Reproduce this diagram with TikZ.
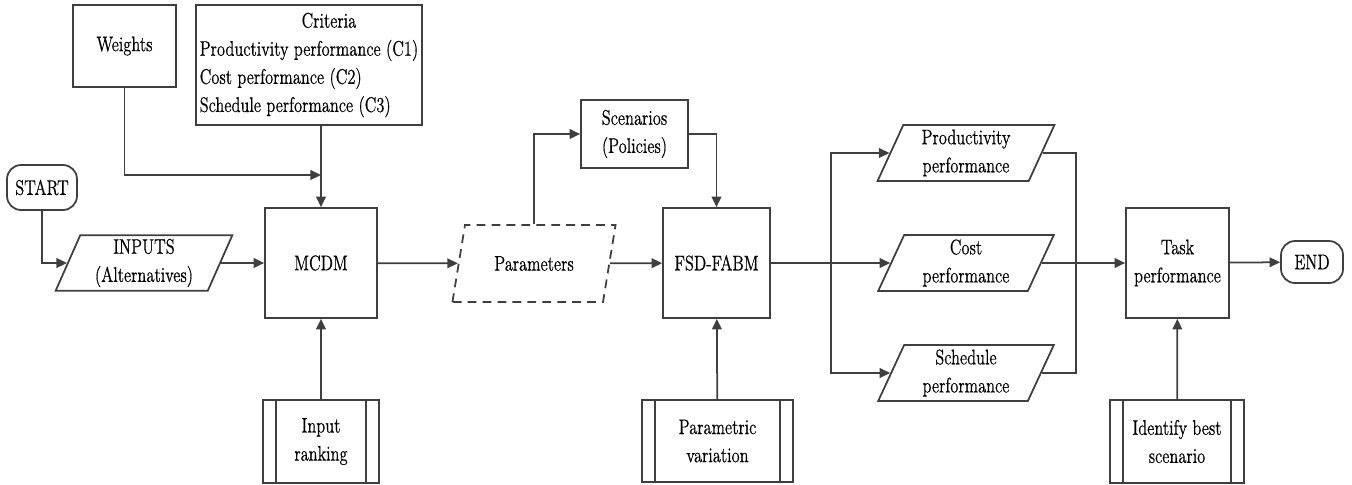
\documentclass[tikz,border=0pt]{standalone}
\usepackage{fontspec}
\setmainfont{Latin Modern Roman}[FakeStretch=0.78,FakeBold=0.6]
\usepackage{tikz}
\usetikzlibrary{shapes.geometric,arrows.meta}
\usepackage{xcolor}
\definecolor{flowgray}{HTML}{3F3F3F}

\begin{document}
\begin{tikzpicture}[x=0.02cm,y=-0.02cm,
		font=\fontsize{12pt}{16pt}\selectfont,
		line width=1pt,
		>={Triangle[length=6pt,width=5.5pt]},
		box/.style={draw=flowgray,align=center,inner sep=2pt},
		term/.style={box,rounded corners=8pt},
		inout/.style={box,trapezium,trapezium left angle=70,trapezium right angle=110,trapezium stretches=true},
		subr/.style={box,path picture={
			\draw [flowgray] ([xshift=0.26cm]path picture bounding box.north west) -- ([xshift=0.26cm]path picture bounding box.south west);
			\draw [flowgray] ([xshift=-0.26cm]path picture bounding box.north east) -- ([xshift=-0.26cm]path picture bounding box.south east);}},
		flow/.style={draw=flowgray,->}]
		\useasboundingbox (0,0) rectangle (1352,484);

		% INPUT SIDE
		\node [term,minimum width=1.4cm,minimum height=0.9cm] (start) at (42,187.5) {START};
		\node [inout,minimum width=3.56cm,minimum height=1.08cm] (inputs) at (144,263) {INPUTS\\(Alternatives)};
		\node [box,minimum width=2.06cm,minimum height=1.64cm] (weights) at (124.5,46) {Weights};
		\node [box,align=left,minimum width=4.44cm,minimum height=2.4cm] (crit) at (309,65) {\hspace*{58pt}Criteria\\Productivity performance (C1)\\Cost performance (C2)\\Schedule performance (C3)};
		\node [box,minimum width=2.24cm,minimum height=2.2cm] (mcdm) at (321,263) {MCDM};
		\node [subr,minimum width=2.32cm,minimum height=1.66cm] (rank) at (321,441.5) {Input\\ranking};
		\coordinate (wjoin) at (321,175);

		% SIMULATION
		\node [inout,dash pattern=on 5pt off 3.5pt,minimum width=3.28cm,minimum height=1.54cm] (params) at (534,263.5) {Parameters};
		\node [box,minimum width=2.14cm,minimum height=1.36cm] (scen) at (634.5,134) {Scenarios\\(Policies)};
		\node [box,minimum width=2.14cm,minimum height=2.2cm] (fsd) at (716.5,263) {FSD-FABM};
		\node [subr,minimum width=3.02cm,minimum height=1.64cm] (vary) at (717.5,441) {Parametric\\variation};
		\coordinate (split) at (831,263);

		% OUTPUTS
		\node [inout,minimum width=3.54cm,minimum height=1.12cm] (prod) at (966,153) {Productivity\\performance};
		\node [inout,minimum width=3.54cm,minimum height=1.12cm] (cost) at (966,263) {Cost\\performance};
		\node [inout,minimum width=3.54cm,minimum height=1.12cm] (sched) at (966,373) {Schedule\\performance};
		\coordinate (merge) at (1076,263);
		\node [box,minimum width=2.06cm,minimum height=2.2cm] (task) at (1177.5,263) {Task\\performance};
		\node [subr,minimum width=2.68cm,minimum height=1.66cm] (best) at (1177,441.5) {Identify best\\scenario};
		\node [term,minimum width=1.24cm,minimum height=0.84cm] (finish) at (1312,262) {END};

		% CONNECTORS
		\draw [flow] (start) |- (inputs);
		\draw [flow] (inputs) -- (mcdm);
		\draw [flow] (weights) |- (wjoin);
		\draw [flow] (mcdm.north |- crit.south) -- (mcdm.north);
		\draw [flow] (rank) -- (mcdm);
		\draw [flow] (mcdm) -- (params);
		\draw [flow] (params) |- (scen);
		\draw [flow] (scen) -| (fsd);
		\draw [flow] (params) -- (fsd);
		\draw [flow] (vary) -- (fsd);
		\draw [flow] (fsd) -- (cost);
		\draw [flow] (split) |- (prod);
		\draw [flow] (split) |- (sched);
		\draw [draw=flowgray] (prod) -| (merge);
		\draw [draw=flowgray] (sched) -| (merge);
		\draw [flow] (cost) -- (task);
		\draw [flow] (best) -- (task);
		\draw [flow] (task) -- (finish);
\end{tikzpicture}
\end{document}
